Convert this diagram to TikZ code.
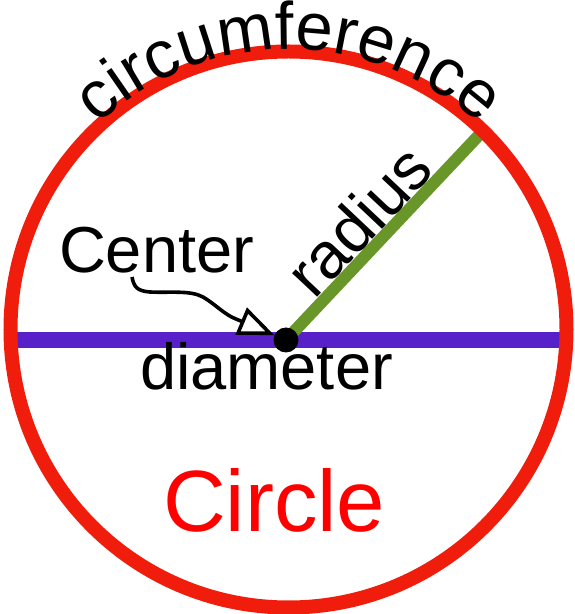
\documentclass[tikz,border=0pt]{standalone}
\usepackage{fontspec}
\setmainfont{Liberation Sans}
\usetikzlibrary{decorations.text,arrows.meta,calc}
\definecolor{cred}{RGB}{240,28,12}
\definecolor{cpurple}{RGB}{88,32,200}
\definecolor{cgreen}{RGB}{104,150,40}
\definecolor{pured}{RGB}{255,0,0}
\tikzset{
  lbl/.style={inner sep=0pt, outer sep=0pt, text=black},
}
\begin{document}
\begin{tikzpicture}[x=1pt,y=1pt]
\useasboundingbox (0,0) rectangle (575,614);
\coordinate (O) at (288.5,284.5);
\coordinate (dl) at (12,274);
\coordinate (dr) at (565,274);
\coordinate (c0) at (286,274);
\coordinate (rend) at (481,481);
% diameter
\draw[cpurple, line width=16pt] (dl) -- (dr);
% radius
\draw[cgreen, line width=12pt] (c0) -- (rend);
% circle
\draw[cred, line width=14pt] (O) circle[radius=278];
% circumference text
\path[decorate, decoration={text along path, text align=center,
  text={|\fontsize{67}{67}\selectfont|circumference}}]
  ($(O)+(180:280)$) arc[start angle=180, end angle=0, radius=280];
% labels
\node[lbl, anchor=base west, font=\fontsize{65}{65}\selectfont] (cen) at (59,341) {Center};
\node[lbl, anchor=base west, font=\fontsize{65}{65}\selectfont] (dia) at (140,224) {diameter};
\node[lbl, anchor=base west, font=\fontsize{87}{87}\selectfont, text=pured] (cir) at (163,82) {Circle};
\node[lbl, anchor=base, rotate=46.7, font=\fontsize{65}{65}\selectfont] (rad) at (375.4,377.8) {radius};
% center dot
\node[circle, fill=black, minimum size=25pt, inner sep=0pt] (ctr) at (c0) {};
% arrow from Center to the dot
\coordinate (as) at (132,337);
\draw[line width=3.6pt, -{Triangle[fill=white, length=36pt, width=29pt]}]
  (as) .. controls (134,327) and (137,323) .. (150,322)
       .. controls (170,321) and (190,324) .. (203,317)
       .. controls (215,310) and (225,299) .. (236,295) -- (ctr);
\end{tikzpicture}
\end{document}
